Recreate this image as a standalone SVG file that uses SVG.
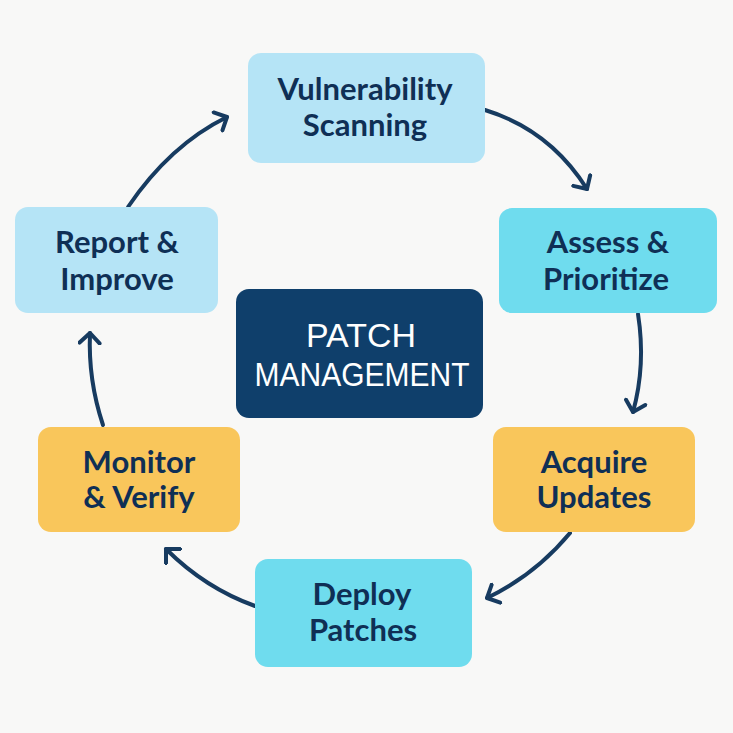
<svg xmlns="http://www.w3.org/2000/svg" width="733" height="733" viewBox="0 0 733 733">
<defs>
<style>
.lbl{font-family:Lato,"Open Sans","Liberation Sans",sans-serif;font-weight:700;font-size:31px;fill:#0f2f55;text-anchor:middle}
.ctr{font-family:"Liberation Sans",Arial,sans-serif;font-weight:400;font-size:34px;fill:#ffffff;text-anchor:middle}
.light{fill:#b5e4f6}
.cyan{fill:#6fdcee}
.yel{fill:#f9c65b}
.con{fill:none;stroke:#173b60;stroke-width:4;stroke-linecap:round}
</style>
<marker id="arr" markerUnits="userSpaceOnUse" markerWidth="24" markerHeight="24" refX="12" refY="12" orient="auto" viewBox="0 0 24 24">
<path d="M2,2 L12,12 L2,22" fill="none" stroke="#173b60" stroke-width="4" stroke-linecap="round" stroke-linejoin="round"/>
</marker>
</defs>
<rect width="733" height="733" fill="#f8f8f7"/>
<g id="connectors">
<path class="con" d="M485,110 Q550,130 587,189" marker-end="url(#arr)"/>
<path class="con" d="M638,314 Q646,365 633,412" marker-end="url(#arr)"/>
<path class="con" d="M570,533 Q535,575 487,598" marker-end="url(#arr)"/>
<path class="con" d="M255,606 Q205,588 166,549" marker-end="url(#arr)"/>
<path class="con" d="M103,425 Q88,380 90,333" marker-end="url(#arr)"/>
<path class="con" d="M128,207 Q170,145 227,117" marker-end="url(#arr)"/>
</g>
<g id="center">
<rect x="236" y="289" width="247" height="129" rx="13" fill="#0f3f6b"/>
<text class="ctr" x="361" y="347" textLength="110" lengthAdjust="spacingAndGlyphs">PATCH</text>
<text class="ctr" x="362" y="386" textLength="215" lengthAdjust="spacingAndGlyphs">MANAGEMENT</text>
</g>
<g id="vulnerability-scanning">
<rect class="light" x="248" y="53" width="237" height="110" rx="13"/>
<text class="lbl" x="365" y="100">Vulnerability</text>
<text class="lbl" x="365" y="136">Scanning</text>
</g>
<g id="assess-prioritize">
<rect class="cyan" x="499" y="208" width="218" height="105" rx="13"/>
<text class="lbl" x="608" y="253">Assess &amp;</text>
<text class="lbl" x="606" y="290">Prioritize</text>
</g>
<g id="acquire-updates">
<rect class="yel" x="493" y="427" width="202" height="105" rx="13"/>
<text class="lbl" x="594" y="473">Acquire</text>
<text class="lbl" x="594" y="508">Updates</text>
</g>
<g id="deploy-patches">
<rect class="cyan" x="255" y="559" width="217" height="108" rx="13"/>
<text class="lbl" x="362" y="605">Deploy</text>
<text class="lbl" x="363" y="641">Patches</text>
</g>
<g id="monitor-verify">
<rect class="yel" x="38" y="427" width="202" height="105" rx="13"/>
<text class="lbl" x="139" y="473">Monitor</text>
<text class="lbl" x="139" y="508">&amp; Verify</text>
</g>
<g id="report-improve">
<rect class="light" x="15" y="207" width="203" height="106" rx="13"/>
<text class="lbl" x="117" y="253">Report &amp;</text>
<text class="lbl" x="117" y="290">Improve</text>
</g>
</svg>
